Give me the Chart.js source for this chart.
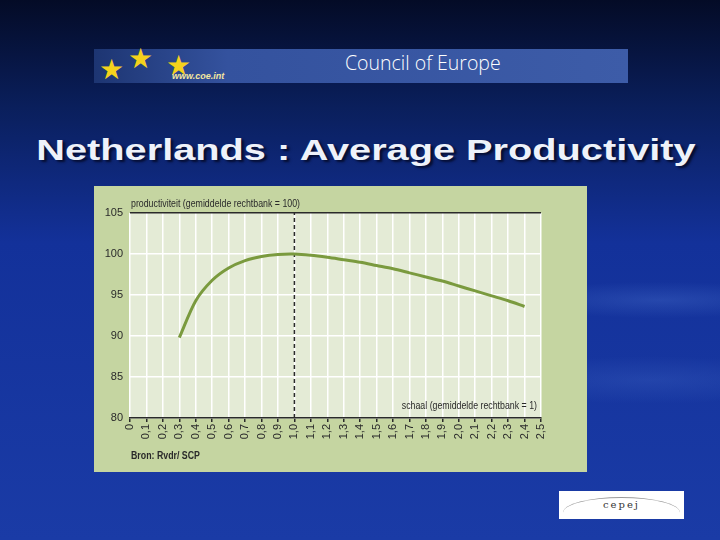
<!DOCTYPE html>
<html lang="nl">
<head>
    <meta charset="UTF-8">
    <title>Netherlands : Average Productivity</title>
    <script src="https://cdn.jsdelivr.net/npm/chart.js"></script>
    <style>
        html, body { margin: 0; padding: 0; }
        body {
            width: 720px; height: 540px; position: relative; overflow: hidden;
            background:
                radial-gradient(ellipse 220px 26px at 660px 300px, rgba(80,120,210,0.30), rgba(80,120,210,0) 70%),
                radial-gradient(ellipse 260px 34px at 650px 380px, rgba(80,120,210,0.22), rgba(80,120,210,0) 70%),
                linear-gradient(to bottom, #040b26 0%, #0a1f5c 20%, #13319a 45%, #1a3ba6 100%);
            font-family: "Liberation Sans", Arial, sans-serif;
        }
        #banner {
            position: absolute; left: 94px; top: 49px; width: 534px; height: 34px;
            background: linear-gradient(to right, #1d3572 0%, #34529e 25%, #3d5ca8 100%);
        }
        #banner .star { position: absolute; color: #f5d21c; font-size: 28px; line-height: 28px; }
        #banner .org { position: absolute; left: 251px; top: 0px; color: #fff; font-size: 19.5px; font-family: "Open Sans", sans-serif; font-weight: 300; }
        #banner .web { position: absolute; left: 78px; top: 22px; color: #f3e7a0; font-size: 9px; font-weight: bold; font-style: italic; }
        #title {
            position: absolute; left: 366px; top: 134px; white-space: nowrap;
            transform: translateX(-50%) scaleX(1.37);
            color: #eef2fa; font-weight: bold; font-size: 29px;
            text-shadow: 2px 2px 2px #050d30;
        }
        #chartPanel { position: absolute; left: 94px; top: 186px; width: 493px; height: 286px; background: #c5d5a1; }
        #logo {
            position: absolute; left: 559px; top: 491px; width: 125px; height: 28px; background: #fff;
            text-align: center; font-family: "DejaVu Serif", serif; font-size: 10px; letter-spacing: 2px; color: #333;
            overflow: hidden;
        }
        #logo .arc { position: absolute; left: 4px; top: 6px; width: 117px; height: 30px; border-top: 1px solid #9a9a9a; border-radius: 50%; }
        #logo span { position: relative; top: 8px; }
    </style>
</head>
<body>

<div id="banner">
    <span class="star" style="left:5px; top:7px;">★</span>
    <span class="star" style="left:34px; top:-4px;">★</span>
    <span class="star" style="left:72px; top:3px;">★</span>
    <span class="web">www.coe.int</span>
    <span class="org">Council of Europe</span>
</div>

<div id="title">Netherlands : Average Productivity</div>

<canvas id="chartPanel" width="493" height="286"></canvas>

<div id="logo"><div class="arc"></div><span>cepej</span></div>

<script>
    // Schaal (gemiddelde rechtbank = 1) and productiviteit (gemiddelde rechtbank = 100)
    const scaleValues = [0.3, 0.4, 0.5, 0.6, 0.7, 0.8, 0.9, 1.0, 1.1, 1.2, 1.3, 1.4,
                         1.5, 1.6, 1.7, 1.8, 1.9, 2.0, 2.1, 2.2, 2.3, 2.4];
    const productivity = [89.8, 94.3, 96.8, 98.3, 99.2, 99.7, 99.95, 100, 99.85, 99.6, 99.3, 99.0,
                          98.6, 98.2, 97.7, 97.2, 96.7, 96.1, 95.5, 94.9, 94.3, 93.6];

    // Axis ranges and tick steps
    const xMin = 0, xMax = 2.5, xStep = 0.1;
    const yMin = 80, yMax = 105, yStep = 5;
    const referenceScale = 1.0; // gemiddelde rechtbank

    const yAxisTitle = 'productiviteit (gemiddelde rechtbank = 100)';
    const xAxisTitle = 'schaal (gemiddelde rechtbank = 1)';
    const sourceNote = 'Bron: Rvdr/ SCP';

    const labelFont = '"Liberation Sans", Arial, sans-serif';

    // narrow text: squeeze horizontally around the anchor point
    function narrowText(ctx, text, x, y, align) {
        ctx.save();
        ctx.translate(x, y);
        ctx.scale(0.8, 1);
        ctx.textAlign = align;
        ctx.fillText(text, 0, 0);
        ctx.restore();
    }

    // Draw plot background and the text labels around the plot
    const panelPlugin = {
        id: 'panelPlugin',
        beforeDraw(chart) {
            const { ctx, chartArea } = chart;
            ctx.save();
            ctx.fillStyle = '#e4ebd6';
            ctx.fillRect(chartArea.left, chartArea.top, chartArea.right - chartArea.left, chartArea.bottom - chartArea.top);
            ctx.restore();
        },
        afterDraw(chart) {
            const { ctx, chartArea } = chart;
            ctx.save();
            ctx.fillStyle = '#2a2a2a';
            ctx.textBaseline = 'middle';
            ctx.font = '11px ' + labelFont;
            narrowText(ctx, yAxisTitle, chartArea.left + 1, 18, 'left');
            narrowText(ctx, xAxisTitle, chartArea.right - 4, 220, 'right');
            ctx.font = 'bold 11px ' + labelFont;
            narrowText(ctx, sourceNote, chartArea.left + 1, 270, 'left');
            ctx.restore();
        }
    };

    const lineData = scaleValues.map((x, i) => ({ x: x, y: productivity[i] }));
    const refLine = [{ x: referenceScale, y: yMin }, { x: referenceScale, y: yMax }];

    const chart = new Chart(document.getElementById('chartPanel').getContext('2d'), {
        type: 'line',
        data: {
            datasets: [
                {
                    label: 'productiviteit',
                    data: lineData,
                    borderColor: '#7a9a3e',
                    borderWidth: 3,
                    pointRadius: 0,
                    fill: false,
                    tension: 0.3
                },
                {
                    label: 'gemiddelde rechtbank',
                    data: refLine,
                    borderColor: '#2a2a2a',
                    borderWidth: 1.5,
                    borderDash: [4, 3],
                    pointRadius: 0,
                    fill: false
                }
            ]
        },
        options: {
            responsive: false,
            animation: false,
            devicePixelRatio: 1,
            layout: { padding: { top: 27, right: 46, left: 0, bottom: 0 } },
            plugins: {
                legend: { display: false },
                tooltip: { enabled: false }
            },
            scales: {
                x: {
                    type: 'linear',
                    min: xMin,
                    max: xMax,
                    afterFit: (scale) => { scale.height = 54; },
                    ticks: {
                        stepSize: xStep,
                        autoSkip: false,
                        minRotation: 90,
                        maxRotation: 90,
                        padding: 2,
                        color: '#2a2a2a',
                        font: { size: 11, family: labelFont },
                        callback: (v) => (Math.abs(v) < 1e-9 ? '0' : v.toFixed(1).replace('.', ','))
                    },
                    grid: {
                        color: '#ffffff',
                        lineWidth: 1.5,
                        tickColor: '#2a2a2a',
                        tickLength: 4,
                        tickWidth: 1.5
                    },
                    border: { display: true, color: '#2a2a2a', width: 1.5 }
                },
                y: {
                    min: yMin,
                    max: yMax,
                    afterFit: (scale) => { scale.width = 36; },
                    ticks: {
                        stepSize: yStep,
                        padding: 7,
                        color: '#2a2a2a',
                        font: { size: 11, family: labelFont }
                    },
                    grid: {
                        color: (ctx) => (ctx.tick && ctx.tick.value === yMax ? '#2a2a2a' : '#ffffff'),
                        lineWidth: 1.5,
                        drawTicks: false
                    },
                    border: { display: false }
                }
            }
        },
        plugins: [panelPlugin]
    });
</script>

</body>
</html>
